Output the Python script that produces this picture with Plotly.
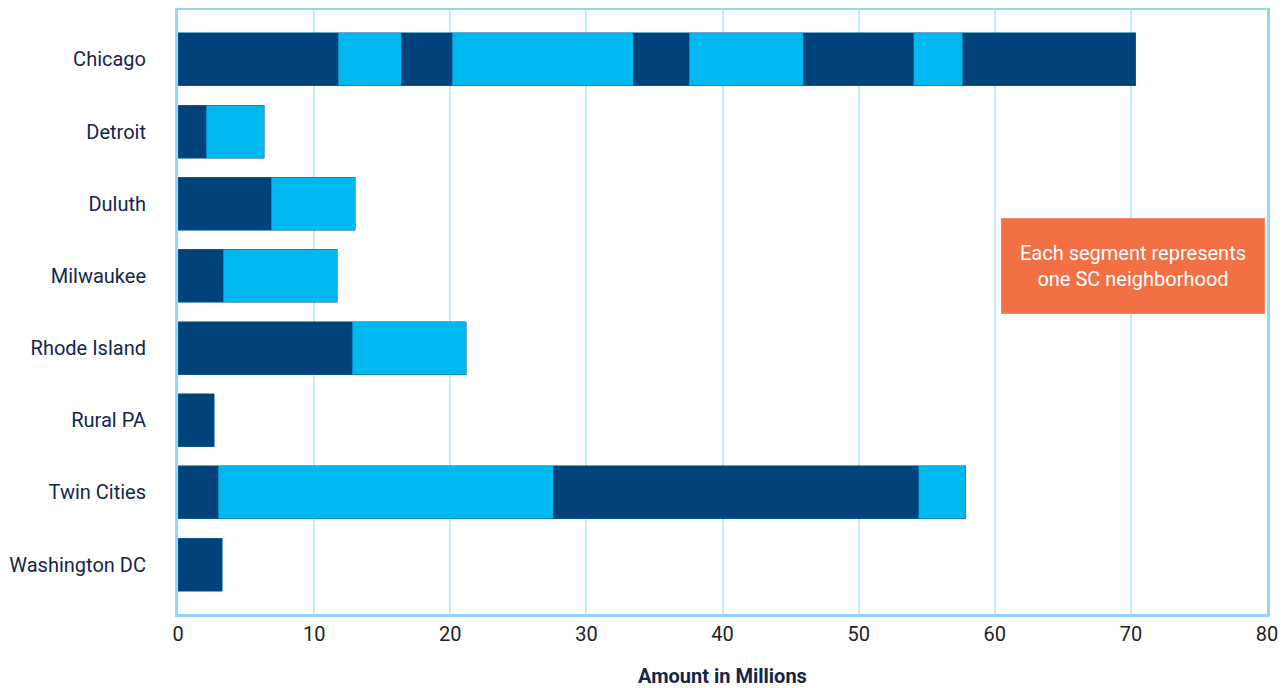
import plotly.graph_objects as go

# ——— Data (amounts in millions, one value per SC neighborhood segment) ———
cities = ["Chicago", "Detroit", "Duluth", "Milwaukee", "Rhode Island",
          "Rural PA", "Twin Cities", "Washington DC"]

chicago      = [11.76, 4.63, 3.75, 13.31, 4.12, 8.38, 8.09, 3.60, 12.72]
detroit      = [2.06, 4.26]
duluth       = [6.84, 6.18]
milwaukee    = [3.31, 8.38]
rhode_island = [12.79, 8.38]
rural_pa     = [2.65]
twin_cities  = [2.94, 24.63, 26.84, 3.46]
washington   = [3.24]

x_ticks = [0, 10, 20, 30, 40, 50, 60, 70, 80]
# ——————————————————

NAVY = "#00427a"
LIGHT = "#00b8f0"
TEXT = "#14264a"

segments = [chicago, detroit, duluth, milwaukee, rhode_island,
            rural_pa, twin_cities, washington]
n_seg = max(len(s) for s in segments)

fig = go.Figure()
for i in range(n_seg):
    vals = [s[i] if i < len(s) else None for s in segments]
    fig.add_trace(go.Bar(
        y=cities, x=vals, orientation="h",
        marker=dict(color=NAVY if i % 2 == 0 else LIGHT,
                    line=dict(color="#0a6fa8", width=0.6)),
        width=0.735, showlegend=False,
        hovertemplate="%{y}: %{x:.2f}M<extra></extra>",
    ))

# page body adds a few px of offset, so the figure is a bit smaller than the window
fig.update_layout(
    barmode="stack",
    width=1280, height=682,
    margin=dict(l=170, r=21, t=2, b=76),
    paper_bgcolor="white", plot_bgcolor="white",
    font=dict(family="Roboto, sans-serif", color=TEXT, size=20),
    xaxis=dict(
        range=[0, 80], tickvals=x_ticks, ticks="", automargin=False,
        showgrid=True, gridcolor="#c6e9f9", gridwidth=2,
        showline=True, linecolor="#92d8f5", linewidth=3, mirror=True,
        zeroline=False,
        tickfont=dict(size=20, color="#222222"),
        title=dict(text="<b>Amount in Millions</b>", font=dict(size=20, color=TEXT),
                   standoff=24),
    ),
    yaxis=dict(
        range=[7.685, -0.685], ticks="", ticklabelstandoff=25, automargin=False,
        showgrid=False, showline=True, linecolor="#92d8f5", linewidth=3, mirror=True,
        tickfont=dict(size=20, color=TEXT),
    ),
    annotations=[dict(xref="paper", yref="paper",
                      x=(1133 - 178) / 1089, y=1 - (263 - 7) / 605,
                      xanchor="center", yanchor="middle",
                      width=262, height=94, bgcolor="#f27044",
                      bordercolor="#f58a62", borderwidth=1, borderpad=0,
                      text="Each segment represents<br>one SC neighborhood",
                      showarrow=False, font=dict(size=20, color="white"))],
)

fig.write_html("out.html")
